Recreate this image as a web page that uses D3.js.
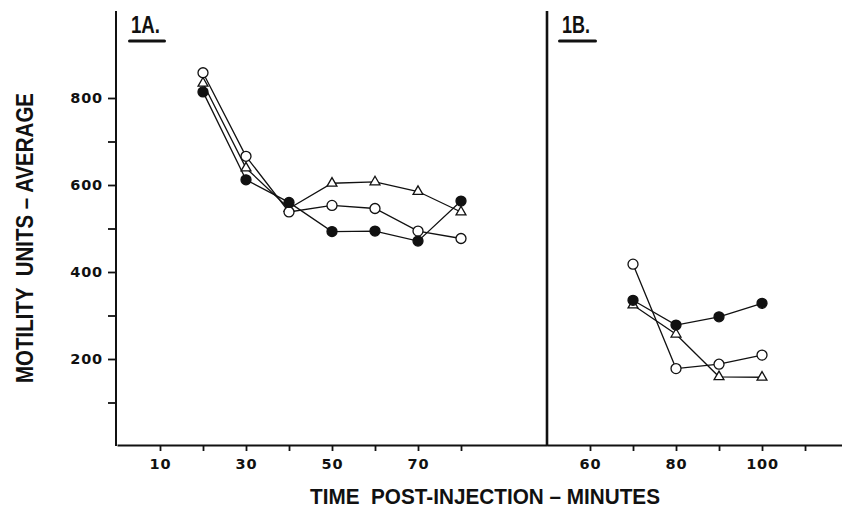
<!DOCTYPE html>
<html>
<head>
<meta charset="utf-8">
<script src="https://cdn.jsdelivr.net/npm/d3@7"></script>
<style>
  body { margin: 0; background: #fff; }
  svg { display: block; }
  .title { font-family: "Liberation Sans", Arial, sans-serif; font-weight: bold; fill: #111; }
</style>
</head>
<body>
<div id="chart"></div>
<script>
// panel 1A data (minutes, motility units)
const timesA = [20, 30, 40, 50, 60, 70, 80];
const filledA = [814, 612, 560, 493, 494, 471, 563];
const openA = [858, 666, 538, 553, 546, 494, 477];
const triangleA = [834, 639, 546, 604, 607, 585, 538];

// panel 1B data
const timesB = [70, 80, 90, 100];
const filledB = [335, 278, 297, 328];
const openB = [418, 178, 188, 209];
const triangleB = [324, 257, 159, 158];

// ticks and labels
const yTicks = [100, 200, 300, 400, 500, 600, 700, 800];
const yLabels = [200, 400, 600, 800];
const xTicksA = [10, 20, 30, 40, 50, 60, 70, 80];
const xLabelsA = [10, 30, 50, 70];
const xTicksB = [60, 70, 80, 90, 100, 110];
const xLabelsB = [60, 80, 100];

const width = 842, height = 511;

const svg = d3.select("#chart").append("svg")
    .attr("width", width)
    .attr("height", height);

// scales
const yScale = d3.scaleLinear().domain([0, 1000]).range([446, 11]);
const xScaleA = d3.scaleLinear().domain([0, 100]).range([117, 547]);
const xScaleB = d3.scaleLinear().domain([50, 118.6]).range([547, 842]);

// y axis
const yAxis = svg.append("g")
    .attr("transform", `translate(${116},0)`)
    .call(d3.axisLeft(yScale)
        .tickValues(yTicks)
        .tickSize(8)
        .tickSizeOuter(0)
        .tickPadding(5)
        .tickFormat((v) => (yLabels.includes(v) ? v : "")));

// x axes
const xAxisA = svg.append("g")
    .attr("transform", `translate(0,${445})`)
    .call(d3.axisBottom(xScaleA)
        .tickValues(xTicksA)
        .tickSize(6)
        .tickSizeOuter(0)
        .tickPadding(8)
        .tickFormat((v) => (xLabelsA.includes(v) ? v : "")));

const xAxisB = svg.append("g")
    .attr("transform", `translate(0,${445})`)
    .call(d3.axisBottom(xScaleB)
        .tickValues(xTicksB)
        .tickSize(6)
        .tickSizeOuter(0)
        .tickPadding(8)
        .tickFormat((v) => (xLabelsB.includes(v) ? v : "")));

[yAxis, xAxisA, xAxisB].forEach((ax) => {
  ax.select(".domain").attr("stroke", "#111").attr("stroke-width", 2);
  ax.selectAll(".tick line").attr("stroke", "#111").attr("stroke-width", 1.8);
  ax.selectAll(".tick text")
      .attr("font-family", "'DejaVu Sans', sans-serif")
      .attr("font-weight", "bold")
      .attr("font-size", 14.5)
      .attr("letter-spacing", 0.8)
      .attr("fill", "#111");
});

// y axis line goes all the way up
yAxis.select(".domain").attr("d", `M0,${yScale(1000)}V${yScale(0)}`);

// divider between panels
svg.append("line")
    .attr("x1", xScaleA(100)).attr("x2", xScaleA(100))
    .attr("y1", yScale(1000)).attr("y2", yScale(0))
    .attr("stroke", "#111").attr("stroke-width", 2.6);

// panel labels with underline
const panelLabels = [
  { text: "1A.", x: 131, width: 29, lineX: 128, lineW: 38 },
  { text: "1B.", x: 562, width: 28, lineX: 558, lineW: 39 },
];
panelLabels.forEach((p) => {
  svg.append("text")
      .attr("class", "title")
      .attr("x", p.x).attr("y", 33)
      .attr("font-size", 24)
      .attr("textLength", p.width)
      .attr("lengthAdjust", "spacingAndGlyphs")
      .text(p.text);
  svg.append("rect")
      .attr("x", p.lineX).attr("y", 39.5)
      .attr("width", p.lineW).attr("height", 3)
      .attr("rx", 1.5)
      .attr("fill", "#111");
});

// axis titles
svg.append("text")
    .attr("class", "title")
    .attr("x", 310).attr("y", 504)
    .attr("font-size", 22)
    .attr("textLength", 350)
    .attr("lengthAdjust", "spacingAndGlyphs")
    .attr("xml:space", "preserve")
    .text("TIME  POST-INJECTION \u2013 MINUTES");

svg.append("text")
    .attr("class", "title")
    .attr("transform", `translate(33,383) rotate(-90)`)
    .attr("font-size", 24)
    .attr("textLength", 290)
    .attr("lengthAdjust", "spacingAndGlyphs")
    .attr("xml:space", "preserve")
    .text("MOTILITY  UNITS \u2013 AVERAGE");

// series
const series = [
  { name: "triangle", panels: [[timesA, triangleA, xScaleA], [timesB, triangleB, xScaleB]] },
  { name: "open", panels: [[timesA, openA, xScaleA], [timesB, openB, xScaleB]] },
  { name: "filled", panels: [[timesA, filledA, xScaleA], [timesB, filledB, xScaleB]] },
];

const line = d3.line();
const triangle = d3.symbol().type(d3.symbolTriangle).size(42);

const chart = svg.append("g");

// lines first so markers sit on top
series.forEach((s) => {
  s.panels.forEach(([times, values, xs]) => {
    chart.append("path")
        .attr("d", line(times.map((t, i) => [xs(t), yScale(values[i])])))
        .attr("fill", "none")
        .attr("stroke", "#111")
        .attr("stroke-width", 1.3);
  });
});

series.forEach((s) => {
  s.panels.forEach(([times, values, xs]) => {
    const pts = times.map((t, i) => ({ x: xs(t), y: yScale(values[i]) }));
    if (s.name === "triangle") {
      chart.selectAll(null).data(pts).enter().append("path")
          .attr("transform", (d) => `translate(${d.x},${d.y})`)
          .attr("d", triangle())
          .attr("fill", "#fff")
          .attr("stroke", "#111")
          .attr("stroke-width", 1.3);
    } else {
      chart.selectAll(null).data(pts).enter().append("circle")
          .attr("cx", (d) => d.x)
          .attr("cy", (d) => d.y)
          .attr("r", 5)
          .attr("fill", s.name === "filled" ? "#111" : "#fff")
          .attr("stroke", "#111")
          .attr("stroke-width", 1.3);
    }
  });
});
</script>
</body>
</html>
